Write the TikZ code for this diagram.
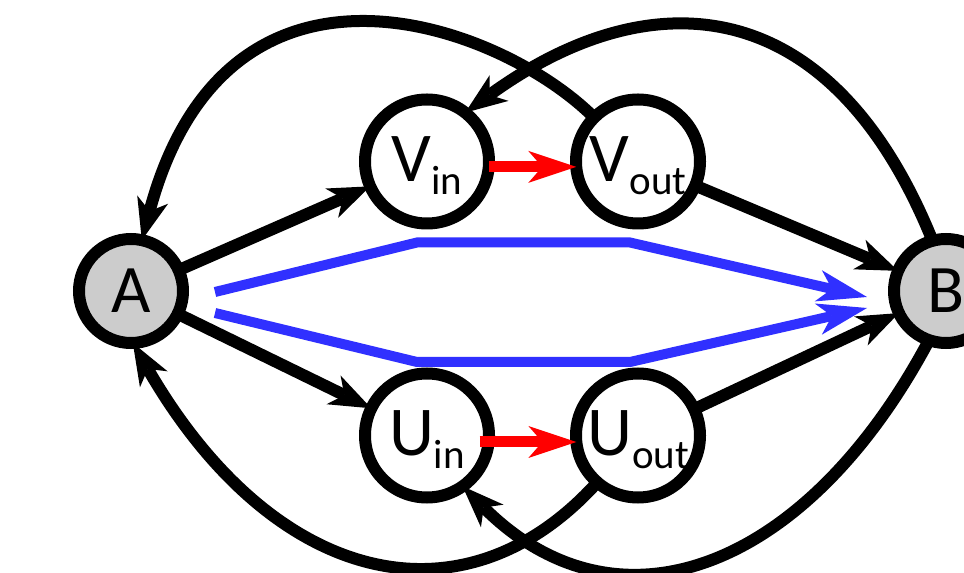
\documentclass[tikz,border=0pt]{standalone}
\usepackage{fontspec}
\setmainfont{Carlito}
\usetikzlibrary{arrows.meta}
\definecolor{myblue}{RGB}{48,48,255}
\definecolor{nodegray}{RGB}{204,204,204}
\newcommand{\mysub}[1]{\raisebox{-13pt}{\fontsize{41pt}{41pt}\selectfont #1}}
\begin{document}
\begin{tikzpicture}[x=1pt,y=1pt,
  vertex/.style={circle, draw=black, line width=12pt, minimum size=124pt, inner sep=0pt, outer sep=0pt,
    fill=white, font=\fontsize{70pt}{70pt}\selectfont, text height=54pt, text depth=13pt},
  terminal/.style={circle, draw=black, line width=12pt, minimum size=104pt, inner sep=0pt, outer sep=0pt,
    fill=nodegray, font=\fontsize{68pt}{68pt}\selectfont},
  blackarrow/.style={draw=black, line width=12pt, -{Stealth[length=42pt,width=32pt,inset=12pt,line width=0pt]}},
  redflow/.style={draw=red, line width=11pt, -{Stealth[length=48pt,width=32pt,inset=14pt,line width=0pt]}},
  bluepath/.style={draw=myblue, line width=10pt, -{Stealth[length=50pt,width=32pt,inset=14pt,line width=0pt]}},
]
\useasboundingbox (0,0) rectangle (964,573);

\node[terminal] (A) at (131,282) {A};
\node[terminal] (B) at (946,282) {B};
\node[vertex] (Vin) at (427,411.5) {V\mysub{in}};
\node[vertex] (Vout) at (638,411.5) {V\mysub{out}};
\node[vertex] (Uin) at (427,137.5) {U\mysub{in}};
\node[vertex] (Uout) at (638,137.5) {U\mysub{out}};

% straight edges
\draw[blackarrow] (A) -- (Vin);
\draw[blackarrow] (A) -- (Uin);
\draw[blackarrow] (Vout) -- (B);
\draw[blackarrow] (Uout) -- (B);

% big arcs
\draw[blackarrow] (Vout.135) .. controls (502.1,547.9) and (227.2,651.7) .. (A.78);
\draw[blackarrow] (B.105) .. controls (831.4,582.5) and (651.3,595.6) .. (Vin.52);
\draw[blackarrow] (Uout.229) .. controls (463,-58) and (272.8,-12.5) .. (A.272);
\draw[blackarrow] (B.251) .. controls (807,3.4) and (618.2,-68.9) .. (Uin.-55);

% red internal edges
\draw[redflow] (Vin.-5) -- (Vout.185);
\draw[redflow] ([xshift=-9pt]Uin.-6) -- (Uout.186);

% blue flow paths
\coordinate (p1s) at (215,281);
\coordinate (p1a) at (417,330.5);
\coordinate (p1b) at (630,330.5);
\coordinate (p1e) at (867,276);
\coordinate (p2s) at (215,260);
\coordinate (p2a) at (417,211);
\coordinate (p2b) at (630,211);
\coordinate (p2e) at (867,265);
\draw[bluepath] (p1s) -- (p1a) -- (p1b) -- (p1e);
\draw[bluepath] (p2s) -- (p2a) -- (p2b) -- (p2e);
\end{tikzpicture}
\end{document}
